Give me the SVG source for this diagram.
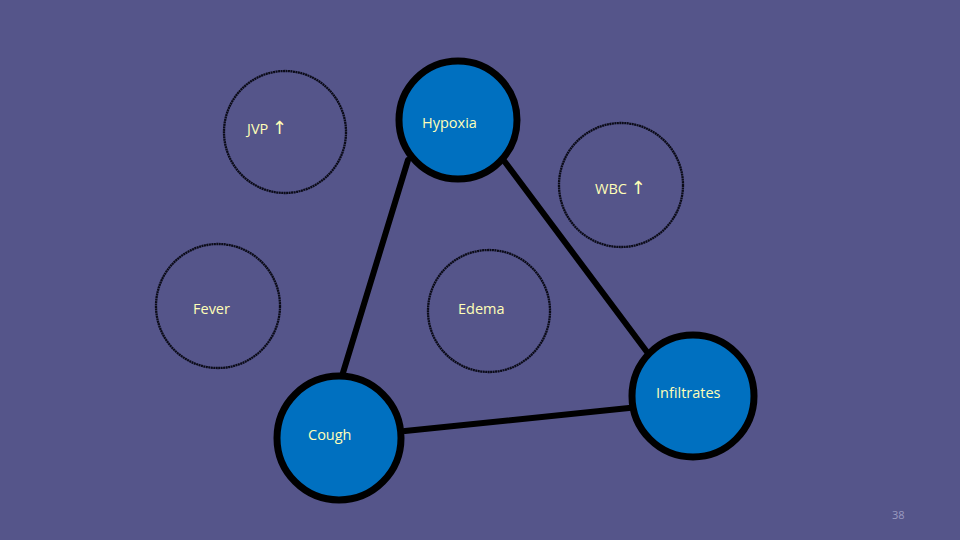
<svg xmlns="http://www.w3.org/2000/svg" width="960" height="540" viewBox="0 0 960 540">
<style>
.thin{fill:none;stroke:#0b0b18;stroke-width:2.3;stroke-dasharray:2 0.5}
.thick{fill:#0070c0;stroke:#000;stroke-width:7}
.lbl{font-family:"Open Sans","Liberation Sans",sans-serif;font-size:14.5px;fill:#ffffb8}
.arr{font-family:"DejaVu Sans",sans-serif;font-size:18px}
.conn{stroke:#000;stroke-width:6;stroke-linecap:round}
</style>
<rect width="960" height="540" fill="#55558a"/>
<g id="connectors">
<line class="conn" x1="408" y1="160" x2="342" y2="376"/>
<line class="conn" x1="505" y1="162" x2="647" y2="352"/>
<line class="conn" x1="405" y1="431" x2="629" y2="408"/>
</g>
<g id="jvp"><circle class="thin" cx="285" cy="132" r="61"/><text class="lbl" x="247" y="134">JVP <tspan class="arr">↑</tspan></text></g>
<g id="hypoxia"><circle class="thick" cx="458" cy="120" r="59"/><text class="lbl" x="422" y="128">Hypoxia</text></g>
<g id="wbc"><circle class="thin" cx="621" cy="185" r="62"/><text class="lbl" x="595" y="194">WBC <tspan class="arr">↑</tspan></text></g>
<g id="fever"><circle class="thin" cx="218" cy="306" r="62"/><text class="lbl" x="193" y="314">Fever</text></g>
<g id="edema"><circle class="thin" cx="489" cy="311" r="61"/><text class="lbl" x="458" y="314">Edema</text></g>
<g id="infiltrates"><circle class="thick" cx="693" cy="396" r="61"/><text class="lbl" x="656" y="398">Infiltrates</text></g>
<g id="cough"><circle class="thick" cx="339" cy="438" r="62"/><text class="lbl" x="308" y="440">Cough</text></g>
<text x="892" y="519" style="font-family:'Open Sans','Liberation Sans',sans-serif;font-size:11px;fill:#9a9ac0">38</text>
</svg>
